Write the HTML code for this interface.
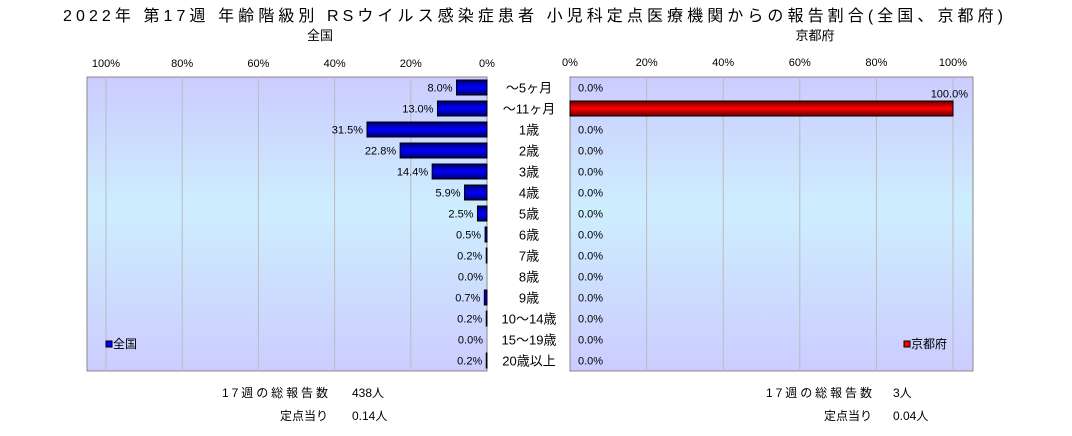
<!DOCTYPE html>
<html><head><meta charset="utf-8"><style>
body{margin:0;background:#fff;font-family:"Liberation Sans","Noto Sans CJK JP",sans-serif;}
svg text{font-family:"Liberation Sans","Noto Sans CJK JP",sans-serif;}
</style></head><body>
<svg id="c" width="1072" height="431" xmlns="http://www.w3.org/2000/svg">
<defs>
<linearGradient id="bg" x1="0" y1="0" x2="0" y2="1">
<stop offset="0" stop-color="#ccccff"/><stop offset="0.45" stop-color="#cdeefe"/><stop offset="1" stop-color="#ccccff"/></linearGradient>
<linearGradient id="bb" x1="0" y1="0" x2="0" y2="1">
<stop offset="0" stop-color="#000066"/><stop offset="0.5" stop-color="#0000ff"/><stop offset="1" stop-color="#000066"/></linearGradient>
<linearGradient id="rb" x1="0" y1="0" x2="0" y2="1">
<stop offset="0" stop-color="#660000"/><stop offset="0.5" stop-color="#ff0000"/><stop offset="1" stop-color="#660000"/></linearGradient>
</defs>
<text x="63" y="21" font-size="16" textLength="940" lengthAdjust="spacing">2022年 第17週 年齢階級別 RSウイルス感染症患者 小児科定点医療機関からの報告割合(全国、京都府)</text>
<text x="320" y="40" font-size="13" text-anchor="middle">全国</text>
<text x="815" y="40" font-size="13" text-anchor="middle">京都府</text>
<g id="g"></g>
<text x="328" y="397" font-size="12" text-anchor="end" textLength="106">17週の総報告数</text>
<text x="352" y="397" font-size="12">438人</text>
<text x="328" y="420" font-size="12" text-anchor="end">定点当り</text>
<text x="352" y="420" font-size="12">0.14人</text>
<text x="872" y="397" font-size="12" text-anchor="end" textLength="106">17週の総報告数</text>
<text x="893" y="397" font-size="12">3人</text>
<text x="872" y="420" font-size="12" text-anchor="end">定点当り</text>
<text x="893" y="420" font-size="12">0.04人</text>
</svg>
<script>
const categories=["～5ヶ月","～11ヶ月","1歳","2歳","3歳","4歳","5歳","6歳","7歳","8歳","9歳","10～14歳","15～19歳","20歳以上"];
const nationalValues=[8.0,13.0,31.5,22.8,14.4,5.9,2.5,0.5,0.2,0.0,0.7,0.2,0.0,0.2];
const kyotoValues=[0.0,100.0,0.0,0.0,0.0,0.0,0.0,0.0,0.0,0.0,0.0,0.0,0.0,0.0];
const ticks=[0,20,40,60,80,100];
const NS="http://www.w3.org/2000/svg";
const g=document.getElementById('g');
function mk(t,a,txt){const e=document.createElementNS(NS,t);for(const k in a)e.setAttribute(k,a[k]);if(txt!=null)e.textContent=txt;g.appendChild(e);return e;}
const plotTop=77,plotBot=371,rowH=(plotBot-plotTop)/categories.length;
const xL=v=>487-v*3.81;
const xR=v=>570+v*3.83;
const yRow=i=>plotTop+i*rowH;
let e=mk('rect',{x:87,y:plotTop,width:400,height:plotBot-plotTop,fill:'url(#bg)',stroke:'#888'});


e=mk('rect',{x:570,y:plotTop,width:403,height:plotBot-plotTop,fill:'url(#bg)',stroke:'#888'});


ticks.forEach(t=>{
 if(t>0){e=mk('line',{x1:xL(t),x2:xL(t),y1:plotTop,y2:plotBot,stroke:'#bbb'});
 
 
 e=mk('line',{x1:xR(t),x2:xR(t),y1:plotTop,y2:plotBot,stroke:'#bbb'});
 
 }
 e=mk('text',{x:xL(t),y:67,'font-size':11,'text-anchor':'middle'},t+'%');
 
 
 e=mk('text',{x:xR(t),y:66,'font-size':11,'text-anchor':'middle'},t+'%');
 
 
});
categories.forEach((c,i)=>{
 const y=yRow(i),cy=y+rowH/2;
 e=mk('text',{x:529,y:cy+5,'font-size':13,'text-anchor':'middle'},c);
 
 
 const v=nationalValues[i];
 e=mk('rect',{x:xL(v),y:cy-7.5,width:487-xL(v),height:15,fill:'url(#bb)',stroke:'#000','stroke-width':1});
 
 
 e=mk('text',{x:xL(v)-4,y:cy+4,'font-size':11,'text-anchor':'end'},v.toFixed(1)+'%');
 
 
 const k=kyotoValues[i];
 if(k>0){e=mk('rect',{x:570,y:cy-7.5,width:xR(k)-570,height:15,fill:'url(#rb)',stroke:'#000','stroke-width':1});
 
 }
 const lx=k>50?xR(k)+15:578, ly=k>50?cy-11:cy+4;
 e=mk('text',{x:lx,y:ly,'font-size':11,'text-anchor':k>50?'end':'start'},k.toFixed(1)+'%');
 
 
});
e=mk('rect',{x:106,y:341,width:6,height:6,fill:'#0000ff',stroke:'#000'});


e=mk('text',{x:113,y:348,'font-size':12},'全国');


e=mk('rect',{x:904,y:341,width:6,height:6,fill:'#ff0000',stroke:'#000'});


e=mk('text',{x:911,y:348,'font-size':12},'京都府');


</script>
</body></html>
